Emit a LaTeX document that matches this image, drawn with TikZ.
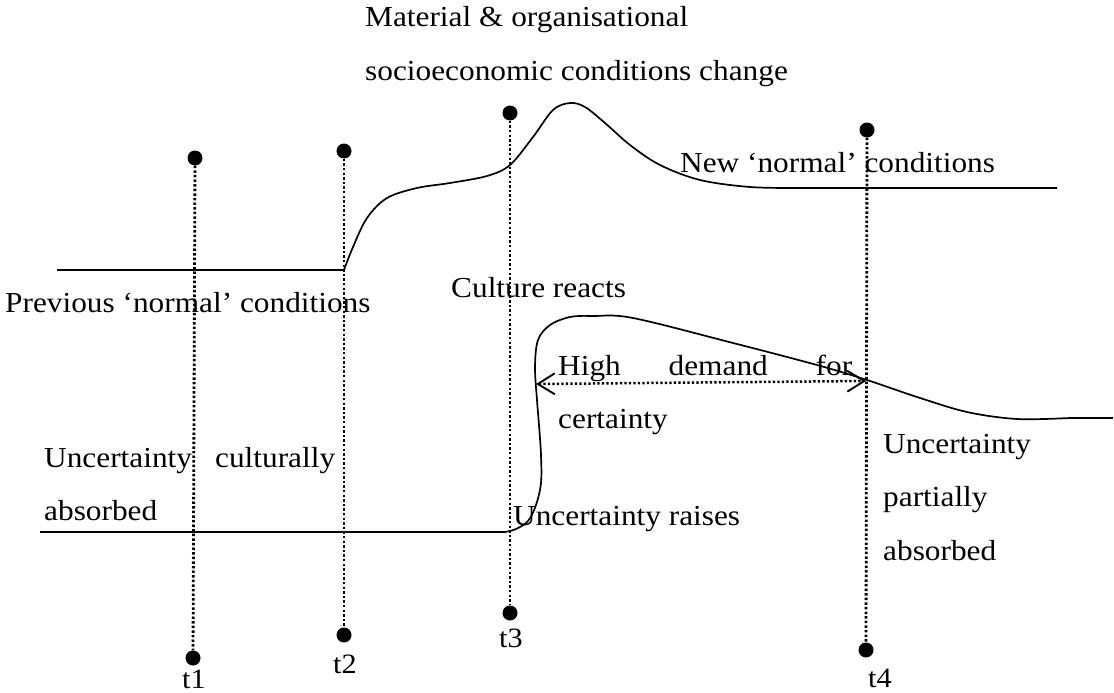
\documentclass[tikz,border=0pt]{standalone}
\usepackage{fontspec}
\setmainfont[FakeStretch=1.08]{Liberation Serif}
\usetikzlibrary{arrows.meta}
\begin{document}
\begin{tikzpicture}[x=1pt,y=-1pt,
  txt/.style={anchor=base west,inner sep=0pt,font=\fontsize{29}{53.5}\selectfont},
  tlabel/.style={anchor=base,inner sep=0pt,font=\fontsize{28}{30}\selectfont},
  tdot/.style={circle,fill=black,inner sep=0pt,minimum size=15pt},
  timeline/.style={line width=2.8pt,dash pattern=on 2.5pt off 2.1pt},
  curve/.style={line width=1.7pt,line join=round},
  span/.style={line width=2.5pt,dash pattern=on 2.4pt off 2.1pt,
    {Straight Barb[length=17pt,width=21pt,line width=1.9pt]}-{Straight Barb[length=17pt,width=21pt,line width=1.9pt]}}]
\useasboundingbox (0,0) rectangle (1114,693);

% time markers: a dot on top and at the bottom, joined by a dotted line
\node[tdot] (t1a) at (195,158) {};
\node[tdot] (t1b) at (193,658) {};
\node[tdot] (t2a) at (344,151) {};
\node[tdot] (t2b) at (344,635) {};
\node[tdot] (t3a) at (510,113) {};
\node[tdot] (t3b) at (510,613) {};
\node[tdot] (t4a) at (867,130) {};
\node[tdot] (t4b) at (866,650) {};
\draw[timeline] (t1a) -- (t1b);
\draw[timeline] (t2a) -- (t2b);
\draw[timeline] (t3a) -- (t3b);
\draw[timeline] (t4a) -- (t4b);

\node[tlabel] (l1) at (194,688) {t1};
\node[tlabel] (l2) at (345,673) {t2};
\node[tlabel] (l3) at (511,647) {t3};
\node[tlabel] (l4) at (880,687) {t4};

% material conditions
\draw[curve] (57,270) -- (344,270)
  plot[smooth,tension=0.55] coordinates {(344,270) (353,247) (367,218) (387,198)
    (417,188) (450,183) (487,176) (510,165) (533,137) (553,110) (570,103)
    (585,107) (605,123) (630,145) (660,165) (700,180) (750,187) (800,188)}
  -- (1057,188);

% cultural response
\draw[curve] (40,532) -- (505,532)
  plot[smooth,tension=0.55] coordinates {(505,532) (516,529) (528,521) (536,505)
    (541,483) (541,455) (539,425) (537,400) (535,367) (538,340) (550,325)
    (570,317) (593,316) (633,318) (733,343) (817,365) (867,380) (917,397)
    (967,412) (1017,419) (1070,418)}
  -- (1113,418);

% demand for certainty
\coordinate (dl) at (536,384);
\coordinate (dr) at (866,381);
\draw[span] (dl) -- (dr);

% texts
\node[txt] (mat) at (365,27) {\begin{tabular}[t]{@{}l@{}}Material \& organisational\\socioeconomic conditions change\end{tabular}};
\node[txt] (new) at (680,172) {New ‘normal’ conditions};
\node[txt] (prev) at (5,312) {Previous ‘normal’ conditions};
\node[txt] (cult) at (451,297) {Culture reacts};
\node[txt] (high) at (558,375) {\begin{tabular}[t]{@{}l@{}}\hbox to 294pt{High\hfill demand\hfill for}\\certainty\end{tabular}};
\node[txt] (raise) at (513,525) {Uncertainty raises};
\node[txt] (absb) at (44,467) {\begin{tabular}[t]{@{}l@{}}\hbox to 291pt{Uncertainty\hfill culturally}\\absorbed\end{tabular}};
\node[txt] (part) at (883,453) {\begin{tabular}[t]{@{}l@{}}Uncertainty\\partially\\absorbed\end{tabular}};
\end{tikzpicture}
\end{document}
